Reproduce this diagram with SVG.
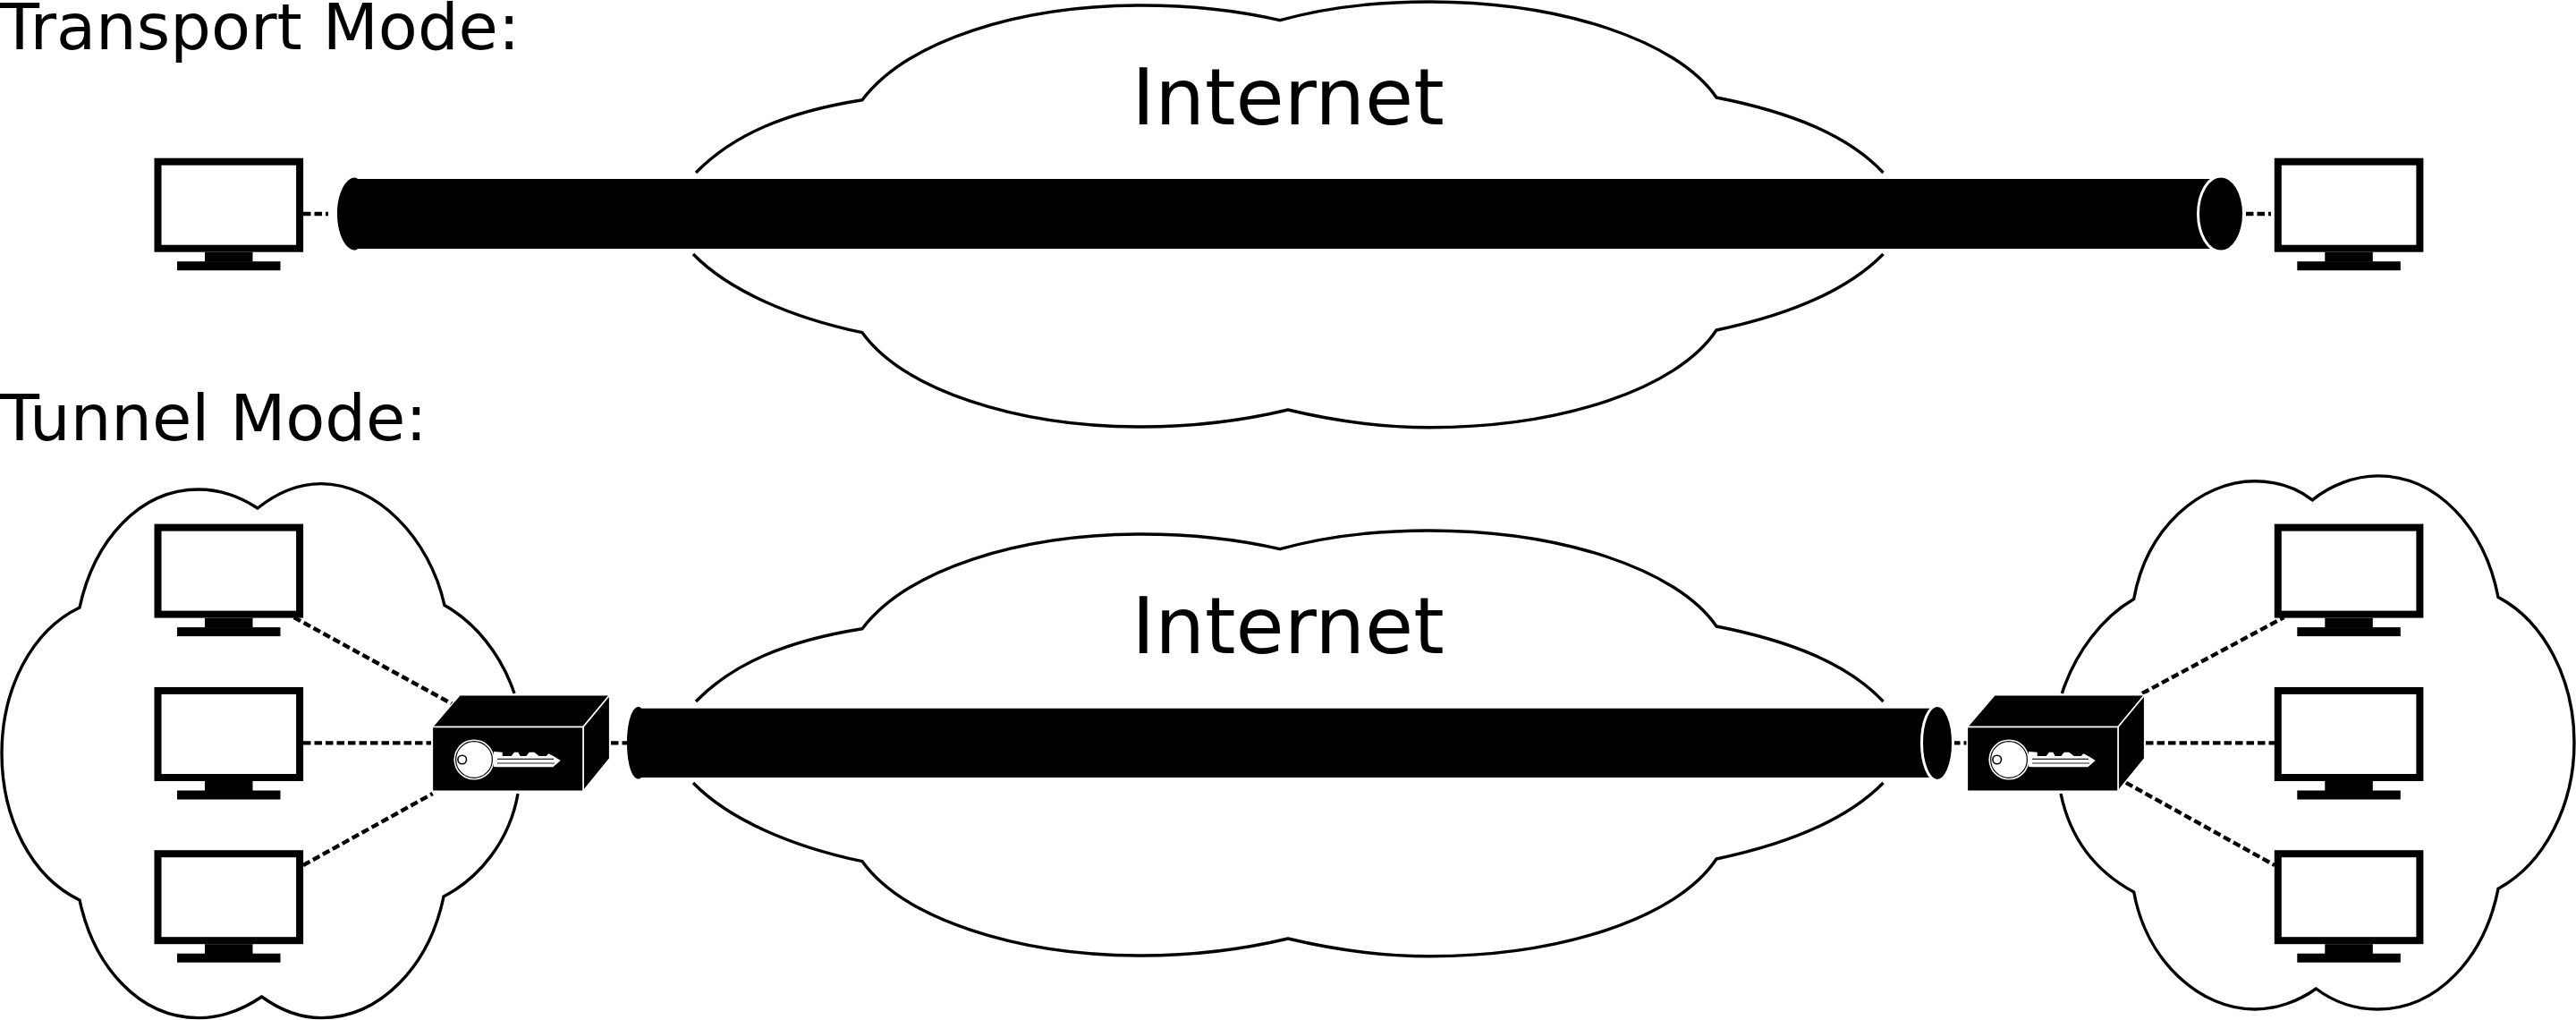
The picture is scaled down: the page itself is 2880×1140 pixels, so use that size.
<svg xmlns="http://www.w3.org/2000/svg" xmlns:xlink="http://www.w3.org/1999/xlink" width="2880" height="1140" viewBox="0 0 2880 1140">
<style>
text{font-family:"DejaVu Sans",sans-serif;fill:#000}
.title{font-size:72px}
.inet{font-size:88px;text-anchor:middle}
.cloud{fill:none;stroke:#000;stroke-width:3.4}
.link{fill:none;stroke:#000;stroke-width:4.4;stroke-dasharray:8.5 4}
.box{fill:#000;stroke:#fff;stroke-width:1.6;stroke-linejoin:miter}
</style>
<defs>
<g id="monitor">
<rect x="4" y="4" width="158.6" height="97" fill="#fff" stroke="#000" stroke-width="8"/>
<rect x="56.5" y="105" width="53.5" height="11"/>
<rect x="25.5" y="115.5" width="115.5" height="10"/>
</g>
<g id="inetcloud">
<path class="cloud" d="M778 193C820 150 880 125 964 111.7C1015 45 1140 6 1276 6C1330 6 1385 12 1431 22.7C1480 9 1540 2 1598 2C1745 2 1875 45 1919 109C2000 125 2065 150 2105.5 193"/>
<path class="cloud" d="M775 284C815 325 885 355 964 371.7C1010 435 1135 477 1276 477C1335 477 1390 470 1440 458C1490 470 1540 477.7 1598 477.7C1745 477.7 1875 435 1919 369C2000 352 2065 325 2105.5 284"/>
<text class="inet" x="1440" y="139">Internet</text>
</g>
<g id="device">
<path class="box" d="M483.3 812.5L514 776.7H681.7L652 812.5Z"/>
<path class="box" d="M652 812.5L681.7 776.7V847.7L652 884.3Z"/>
<rect class="box" x="483.3" y="812.5" width="168.7" height="71.8"/>
<circle cx="530" cy="849" r="22.6" fill="#fff"/>
<circle cx="530" cy="849" r="20.4" fill="#fff" stroke="#000" stroke-width="1.2"/>
<circle cx="516.7" cy="849" r="4.8" fill="#fff" stroke="#000" stroke-width="1.6"/>
<path fill="#fff" d="M552 840L561.7 840.7V845H571.7L575 840.7H579.3L581.7 845H588.3L591.7 840.7H597.3L602.7 845H610.7L613.3 842.3L620 845.7L626.7 850L618.3 857.3H556.7L552 857Z"/>
<path stroke="#222" stroke-width="1.2" fill="none" d="M556 848.3H619M556 853H620"/>
</g>
</defs>
<rect width="2880" height="1140" fill="#fff"/>
<g id="labels">
<text class="title" x="0" y="55">Transport Mode:</text>
<text class="title" x="0" y="492">Tunnel Mode:</text>
</g>
<g id="internet-transport"><use href="#inetcloud"/></g>
<g id="internet-tunnel"><use href="#inetcloud" y="591"/></g>
<g id="lan-left"><path class="cloud" d="M575 775C560 730 530 695 497 676.6C480 600 420 540.6 359 540.6C332 540.6 308 552 288 568C268 555 245 547 222 547C155 547 105 605 89 679C35 705 2 770 2 842C2 915 35 980 89 1006C105 1080 155 1137.6 222 1137.6C247 1137.6 272 1128 292.6 1114C312 1128 335 1137.6 359 1137.6C425 1137.6 480 1080 496 1002C535 982 570 940 579 887"/></g>
<g id="lan-right"><path class="cloud" d="M2305.3 775C2320 730 2350 690 2385.7 669.5C2400 590 2460 537.8 2520.8 537.8C2545 537.8 2567 545 2585.3 558.8C2605 543 2632 531.9 2658.4 531.9C2725 531.9 2778 590 2793 667.5C2845 695 2878 760 2878 830C2878 900 2845 965 2793 993.3C2778 1070 2725 1128 2658.4 1128C2632 1128 2608 1119 2589.4 1105C2570 1119 2545 1128 2520.8 1128C2460 1128 2400 1075 2385.7 997C2345 975 2315 940 2304 887"/></g>
<g id="connectors">
<path class="link" d="M339 239H367"/>
<path class="link" d="M2511 239H2539"/>
<path class="link" d="M328.6 690L506 787"/>
<path class="link" d="M339 830.4H482"/>
<path class="link" d="M339 967L483.7 887"/>
<path class="link" d="M683 830.4H701"/>
<path class="link" d="M2183 830.4H2199"/>
<path class="link" d="M2395 775L2553.5 690"/>
<path class="link" d="M2399 830.4H2543"/>
<path class="link" d="M2376.7 874.7L2543 967"/>
</g>
<g id="tube-transport">
<path d="M400 200H2478V278H400C399 279 398 279.5 397 279.5C386 279.5 377 261 377 239C377 217 386 198.5 397 198.5C398 198.5 399 199 400 200Z"/>
<ellipse cx="2483" cy="239" rx="25.5" ry="42" stroke="#fff" stroke-width="3"/>
</g>
<g id="tube-tunnel">
<path d="M717 791.7H2160V869H717C716 870 715 870.5 714 870.5C706 870.5 701 852 701 830.4C701 809 706 790 714 790C715 790 716 790.7 717 791.7Z"/>
<ellipse cx="2166" cy="830.4" rx="17.5" ry="42" stroke="#fff" stroke-width="3"/>
</g>
<g id="device-left"><use href="#device"/></g>
<g id="device-right"><use href="#device" x="1716"/></g>
<g id="host-t1"><use href="#monitor" x="172.5" y="176.7"/></g>
<g id="host-t2"><use href="#monitor" x="2542.8" y="176.7"/></g>
<g id="host-l1"><use href="#monitor" x="172.5" y="585.6"/></g>
<g id="host-l2"><use href="#monitor" x="172.5" y="768"/></g>
<g id="host-l3"><use href="#monitor" x="172.5" y="950.2"/></g>
<g id="host-r1"><use href="#monitor" x="2542.8" y="585.6"/></g>
<g id="host-r2"><use href="#monitor" x="2542.8" y="768"/></g>
<g id="host-r3"><use href="#monitor" x="2542.8" y="950.2"/></g>
</svg>
